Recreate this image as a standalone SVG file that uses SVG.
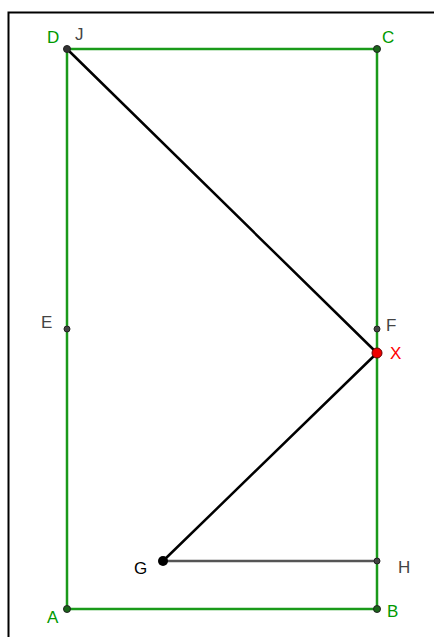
<svg xmlns="http://www.w3.org/2000/svg" width="434" height="637" viewBox="0 0 434 637">
<style>
.lbl{font-family:"Liberation Sans",Arial,sans-serif;font-size:17px}
.g{fill:#009900}
.d{fill:#444444}
.r{fill:#ff0000}
.k{fill:#000000}
.seg{fill:none;stroke-width:2.5;stroke-linecap:round}
</style>
<rect width="434" height="637" fill="#ffffff"/>
<rect x="8.5" y="12.5" width="440" height="640" fill="none" stroke="#000" stroke-width="2"/>
<g id="connectors">
<polygon points="67,49 377,49 377,609 67,609" class="seg" stroke="#1a9a1a"/>
<line x1="67" y1="49" x2="377" y2="353" class="seg" stroke="#000"/>
<line x1="377" y1="353" x2="163" y2="561" class="seg" stroke="#000"/>
<line x1="163" y1="561" x2="377" y2="561" class="seg" stroke="#555"/>
</g>
<g id="D"><circle cx="67" cy="49" r="3.5" fill="#333" stroke="#222"/><text x="47" y="43" class="lbl g">D</text></g>
<g id="J"><text x="75" y="40" class="lbl d">J</text></g>
<g id="C"><circle cx="377" cy="49" r="3.5" fill="#1a661a" stroke="#222"/><text x="382" y="43" class="lbl g">C</text></g>
<g id="E"><circle cx="67" cy="329" r="3" fill="#444" stroke="#222"/><text x="41" y="328" class="lbl d">E</text></g>
<g id="F"><circle cx="377" cy="329" r="3" fill="#444" stroke="#222"/><text x="386" y="331" class="lbl d">F</text></g>
<g id="X"><circle cx="377" cy="353" r="5" fill="#ee0000" stroke="#660000" stroke-width="1"/><text x="390" y="359" class="lbl r">X</text></g>
<g id="G"><circle cx="163" cy="561" r="5" fill="#000"/><text x="134" y="574" class="lbl k">G</text></g>
<g id="H"><circle cx="377" cy="561" r="3" fill="#444" stroke="#222"/><text x="398" y="573" class="lbl d">H</text></g>
<g id="A"><circle cx="67" cy="609" r="3.5" fill="#1a661a" stroke="#222"/><text x="47" y="623" class="lbl g">A</text></g>
<g id="B"><circle cx="377" cy="609" r="3.5" fill="#1a661a" stroke="#222"/><text x="387" y="617" class="lbl g">B</text></g>
</svg>
